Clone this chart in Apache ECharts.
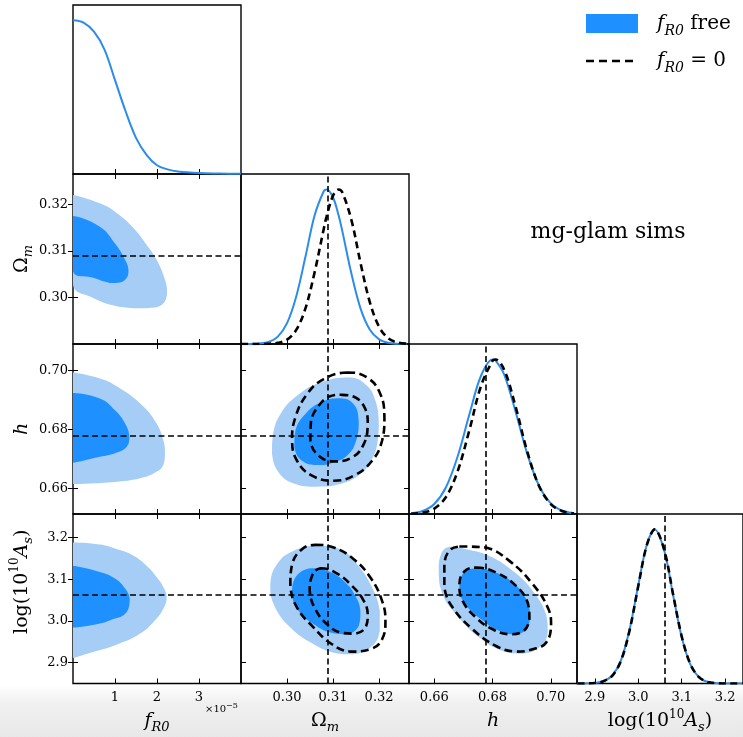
<!DOCTYPE html>
<html>
<head>
<meta charset="utf-8">
<script src="https://cdn.jsdelivr.net/npm/echarts@6/dist/echarts.min.js"></script>
<style>
  html, body { margin: 0; padding: 0; background: #fff; }
  #chart { width: 743px; height: 737px; }
</style>
</head>
<body>
<div id="chart"></div>
<script>
const FONT = 'DejaVu Serif';
const BLUE_DARK = '#1e90ff';
const BLUE_LIGHT = '#a6cdf5';
const BLUE_LINE = '#2b8ceb';

// tick values per parameter
const fr0Ticks = [1, 2, 3];
const omTicks = [0.30, 0.31, 0.32];
const hTicks = [0.66, 0.68, 0.70];
const asTicks = [2.9, 3.0, 3.1, 3.2];

// fiducial values (f_R0 = 0 sims)
const omFid = 0.3089;
const hFid = 0.6777;
const asFid = 3.062;

// 1D marginals
const fr0X = [0, 0.25, 0.5, 0.75, 1.0, 1.25, 1.5, 1.75, 2.0, 2.25, 2.5, 3.0, 3.5, 4.0];
const fr0Pdf = [1.0, 0.985, 0.926, 0.81, 0.611, 0.41, 0.235, 0.125, 0.057, 0.03, 0.016, 0.006, 0.003, 0.001];

const omX = [0.290, 0.292, 0.294, 0.296, 0.298, 0.300, 0.302, 0.304, 0.306, 0.308, 0.3086, 0.310, 0.3112, 0.312, 0.314, 0.316, 0.318, 0.320, 0.322, 0.324, 0.326];
const omFree = [0.0001, 0.0006, 0.0031, 0.0137, 0.048, 0.135, 0.308, 0.564, 0.833, 0.990, 1.0, 0.948, 0.833, 0.732, 0.454, 0.227, 0.092, 0.030, 0.0078, 0.0016, 0.0003];
const omZero = [0, 0.00002, 0.0002, 0.0014, 0.0072, 0.028, 0.091, 0.230, 0.465, 0.748, 0.826, 0.960, 1.0, 0.982, 0.801, 0.520, 0.270, 0.111, 0.037, 0.0096, 0.002];

const hX = [0.652, 0.656, 0.660, 0.664, 0.668, 0.672, 0.676, 0.680, 0.681, 0.684, 0.688, 0.692, 0.696, 0.700, 0.704, 0.708];
const hFree = [0.0048, 0.0197, 0.065, 0.173, 0.372, 0.642, 0.893, 1.000, 0.994, 0.902, 0.656, 0.384, 0.181, 0.069, 0.021, 0.0052];
const hZero = [0.0016, 0.0086, 0.035, 0.110, 0.276, 0.540, 0.827, 0.992, 1.0, 0.934, 0.688, 0.398, 0.180, 0.064, 0.018, 0.0039];

const asX = [2.86, 2.88, 2.90, 2.92, 2.94, 2.96, 2.98, 3.00, 3.02, 3.038, 3.06, 3.08, 3.10, 3.12, 3.14, 3.16, 3.18, 3.20, 3.22, 3.24];
const asFree = [0.0000, 0.0004, 0.004, 0.016, 0.052, 0.149, 0.350, 0.637, 0.904, 1.0, 0.860, 0.576, 0.301, 0.122, 0.039, 0.0096, 0.0018, 0.0003, 0, 0];
const asZero = [0.0000, 0.0003, 0.0035, 0.015, 0.050, 0.146, 0.345, 0.632, 0.901, 1.0, 0.864, 0.581, 0.305, 0.125, 0.041, 0.0102, 0.002, 0.0003, 0, 0];

// 2D contours (68% / 95%), f_R0 free
const fr0Om95 = [[0, 0.3220], [0.64, 0.3202], [1.0, 0.3184], [1.44, 0.3149], [1.75, 0.3113], [1.99, 0.3081], [2.19, 0.3038], [2.24, 0.3009], [2.11, 0.2984], [1.75, 0.2977], [1.44, 0.2977], [1.0, 0.2982], [0.48, 0.2999], [0, 0.3027]];
const fr0Om68 = [[0, 0.3175], [0.64, 0.3152], [1.0, 0.3116], [1.24, 0.3081], [1.32, 0.3059], [1.28, 0.3042], [1.12, 0.3032], [0.88, 0.3031], [0.48, 0.3042], [0, 0.3056]];
const fr0H95 = [[0, 0.6993], [0.64, 0.6973], [1.0, 0.6950], [1.6, 0.6888], [1.99, 0.6820], [2.17, 0.6753], [2.19, 0.6719], [2.15, 0.6679], [1.99, 0.6656], [1.6, 0.6634], [1.0, 0.6622], [0, 0.6615]];
const fr0H68 = [[0, 0.6924], [0.64, 0.6905], [1.0, 0.6865], [1.24, 0.6820], [1.34, 0.6775], [1.28, 0.6741], [1.0, 0.6719], [0.64, 0.6707], [0, 0.6687]];
const fr0As95 = [[0, 3.1884], [0.64, 3.1836], [1.0, 3.1739], [1.42, 3.1578], [1.74, 3.1337], [1.99, 3.1056], [2.15, 3.0815], [2.23, 3.0574], [2.19, 3.0373], [1.99, 3.0052], [1.6, 2.9691], [1.0, 2.9410], [0.48, 2.9249], [0, 2.9104]];
const fr0As68 = [[0, 3.1321], [0.64, 3.1176], [1.0, 3.1016], [1.24, 3.0775], [1.35, 3.0534], [1.32, 3.0293], [1.2, 3.0133], [1.0, 3.0052], [0.64, 2.9932], [0, 2.9836]];

const omH95 = [[0.31377, 0.69763], [0.31739, 0.69480], [0.31920, 0.68972], [0.31993, 0.68294], [0.31971, 0.67616], [0.31848, 0.66994], [0.31594, 0.66485], [0.31159, 0.66146], [0.30652, 0.66057], [0.30145, 0.66169], [0.29819, 0.66542], [0.29674, 0.67164], [0.29696, 0.67842], [0.29855, 0.68519], [0.30217, 0.69142], [0.30725, 0.69593]];
const omH68 = [[0.31159, 0.69062], [0.31449, 0.68859], [0.31558, 0.68294], [0.31522, 0.67729], [0.31340, 0.67164], [0.31014, 0.66881], [0.30652, 0.66790], [0.30326, 0.66938], [0.30160, 0.67390], [0.30181, 0.67955], [0.30362, 0.68463], [0.30725, 0.68915]];
const omAs95 = [[0.30652, 3.1803], [0.31159, 3.1723], [0.31522, 3.1361], [0.31848, 3.0799], [0.32015, 3.0237], [0.32015, 2.9754], [0.31848, 2.9393], [0.31449, 2.9193], [0.31014, 2.9233], [0.30580, 2.9434], [0.30072, 2.9836], [0.29710, 3.0398], [0.29637, 3.0880], [0.29783, 3.1361], [0.30145, 3.1683]];
const omAs68 = [[0.30507, 3.1265], [0.30870, 3.1201], [0.31232, 3.0960], [0.31485, 3.0598], [0.31594, 3.0237], [0.31558, 2.9875], [0.31304, 2.9675], [0.30942, 2.9715], [0.30580, 2.9916], [0.30254, 3.0237], [0.30109, 3.0639], [0.30181, 3.1040]];
const hAs95 = [[0.66515, 3.1779], [0.67089, 3.1723], [0.67890, 3.1562], [0.68691, 3.1201], [0.69379, 3.0719], [0.69838, 3.0157], [0.69895, 2.9715], [0.69667, 2.9393], [0.69035, 2.9209], [0.68348, 2.9273], [0.67546, 2.9595], [0.66744, 3.0157], [0.66286, 3.0639], [0.66149, 3.1201], [0.66229, 3.1602]];
const hAs68 = [[0.67432, 3.1265], [0.68004, 3.1185], [0.68634, 3.0960], [0.69093, 3.0598], [0.69288, 3.0197], [0.69207, 2.9836], [0.68806, 2.9675], [0.68234, 2.9754], [0.67604, 3.0036], [0.67065, 3.0398], [0.66859, 3.0759], [0.66973, 3.1120]];

// 2D contours, f_R0 = 0
const omH95Zero = [[0.31304, 0.69932], [0.31739, 0.69763], [0.32029, 0.69197], [0.32116, 0.68407], [0.32065, 0.67616], [0.31848, 0.66938], [0.31449, 0.66430], [0.31014, 0.66260], [0.30543, 0.66430], [0.30217, 0.66938], [0.30109, 0.67616], [0.30181, 0.68407], [0.30435, 0.69197], [0.30797, 0.69705]];
const omH68Zero = [[0.31159, 0.69175], [0.31485, 0.69085], [0.31703, 0.68689], [0.31754, 0.68181], [0.31667, 0.67503], [0.31413, 0.67051], [0.31014, 0.66915], [0.30688, 0.67107], [0.30507, 0.67616], [0.30522, 0.68294], [0.30688, 0.68802], [0.30906, 0.69108]];
const omAs95Zero = [[0.30616, 3.1827], [0.31014, 3.1763], [0.31449, 3.1482], [0.31812, 3.1040], [0.32065, 3.0478], [0.32138, 2.9996], [0.32065, 2.9554], [0.31812, 2.9313], [0.31377, 2.9257], [0.30978, 2.9434], [0.30580, 2.9836], [0.30217, 3.0318], [0.30072, 3.0839], [0.30109, 3.1361], [0.30326, 3.1723]];
const omAs68Zero = [[0.30725, 3.1265], [0.31051, 3.1161], [0.31413, 3.0839], [0.31667, 3.0478], [0.31754, 3.0157], [0.31703, 2.9836], [0.31485, 2.9691], [0.31159, 2.9715], [0.30870, 2.9916], [0.30616, 3.0277], [0.30493, 3.0719], [0.30543, 3.1080]];
const hAs95Zero = [[0.66859, 3.1787], [0.67776, 3.1763], [0.68577, 3.1442], [0.69379, 3.0880], [0.69895, 3.0318], [0.70010, 2.9916], [0.69838, 2.9474], [0.69379, 2.9313], [0.68806, 2.9257], [0.68120, 2.9393], [0.67318, 2.9795], [0.66630, 3.0318], [0.66344, 3.0799], [0.66344, 3.1361], [0.66515, 3.1683]];
const hAs68Zero = [[0.67432, 3.1281], [0.68120, 3.1161], [0.68806, 3.0839], [0.69207, 3.0438], [0.69265, 3.0036], [0.69035, 2.9739], [0.68577, 2.9675], [0.68004, 2.9795], [0.67432, 3.0076], [0.66973, 3.0478], [0.66859, 3.0880], [0.67031, 3.1185]];

const RICH = {
  it: { fontFamily: FONT, fontStyle: 'italic', fontSize: 19, color: '#000', lineHeight: 26 },
  rm: { fontFamily: FONT, fontSize: 19, color: '#000', lineHeight: 26 },
  sub: { fontFamily: FONT, fontStyle: 'italic', fontSize: 13, color: '#000', lineHeight: 13, verticalAlign: 'bottom' },
  sup: { fontFamily: FONT, fontSize: 12, color: '#000', lineHeight: 12, verticalAlign: 'top' }
};

const params = [
  { name: '{it|f}{sub|R0}', x: [0, 4], y: null, ticks: fr0Ticks, dec: 0, pad: 0 },
  { name: '{rm|Ω}{sub|m}', x: [0.29, 0.3265], y: [0.29, 0.3265], ticks: omTicks, dec: 2, pad: 0 },
  { name: '{it|h}', x: [0.6513, 0.709], y: [0.6513, 0.709], ticks: hTicks, dec: 2, pad: 0 },
  { name: '{rm|log(10}{sup|10}{it|A}{sub|s}{rm|)}', x: [2.859, 3.241], y: [2.849, 3.257], ticks: asTicks, dec: 1, pad: 34 }
];

const colLeft = [73, 241, 409, 577];
const colWidth = 168;
const rowTop = [5, 174, 344, 514];
const rowHeight = [169, 170, 170, 169.5];

function valueAxis(g, pos, range, ticks, dec, labels, name, pad) {
  const vertical = pos === 'left' || pos === 'right';
  return {
    gridIndex: g, type: 'value', position: pos, min: range[0], max: range[1],
    axisLine: { show: false }, splitLine: { show: false },
    axisTick: { show: true, inside: true, length: 5, customValues: ticks, lineStyle: { color: '#000', width: 1 } },
    axisLabel: { show: labels, customValues: ticks, formatter: v => v.toFixed(dec), fontFamily: FONT, fontSize: 13, color: '#000', margin: vertical ? 5 : 8 },
    name: name, nameLocation: 'middle', nameGap: vertical ? 38 : 25, nameRotate: vertical ? 90 : 0,
    nameTextStyle: { rich: RICH, padding: pad ? [0, 0, 0, pad] : 0 }
  };
}

const grids = [], xAxes = [], yAxes = [], series = [];
const cell = {};
for (let i = 0; i < 4; i++) {
  for (let j = 0; j <= i; j++) {
    const g = grids.length;
    grids.push({ left: colLeft[j], top: rowTop[i], width: colWidth, height: rowHeight[i], show: true, borderColor: '#000', borderWidth: 1.4 });
    const px = params[j], py = params[i];
    const xi = xAxes.length;
    xAxes.push(valueAxis(g, 'bottom', px.x, px.ticks, px.dec, i === 3, i === 3 ? px.name : '', 0));
    if (j < i) xAxes.push(valueAxis(g, 'top', px.x, px.ticks, px.dec, false, '', 0));
    const yi = yAxes.length;
    if (j < i) {
      yAxes.push(valueAxis(g, 'left', py.y, py.ticks, py.dec, j === 0, j === 0 ? py.name : '', py.pad));
      yAxes.push(valueAxis(g, 'right', py.y, py.ticks, py.dec, false, '', 0));
    } else {
      yAxes.push({ gridIndex: g, type: 'value', min: 0, max: 1.1, show: false });
    }
    cell[i + '' + j] = { xi, yi };
  }
}

function curve(c, xs, ys, style) {
  series.push({
    type: 'line', xAxisIndex: c.xi, yAxisIndex: c.yi, smooth: 0.35, showSymbol: false, silent: true, z: 4,
    data: xs.map((x, k) => [x, ys[k]]), lineStyle: style
  });
}

function region(c, pts, style, z) {
  series.push({
    type: 'custom', xAxisIndex: c.xi, yAxisIndex: c.yi, clip: true, silent: true, z: z,
    data: pts,
    renderItem: (p, api) => {
      if (p.dataIndex !== 0) return;
      return {
        type: 'polygon',
        shape: { points: pts.map(q => api.coord(q)), smooth: 0.45, smoothConstraint: [[1e9, 1e9], [-1e9, -1e9]] },
        style: style
      };
    }
  });
}

function fid(c, axis, value) {
  series.push({
    type: 'line', xAxisIndex: c.xi, yAxisIndex: c.yi, data: [], z: 6,
    markLine: {
      silent: true, symbol: 'none', precision: 6, label: { show: false },
      lineStyle: { color: '#000', width: 1.6, type: [6, 3.5] },
      data: [{ [axis]: value }]
    }
  });
}

const freeLine = { color: BLUE_LINE, width: 2 };
const zeroLine = { color: '#000', width: 2.6, type: [7, 4.5] };
const fill95 = { fill: BLUE_LIGHT };
const fill68 = { fill: BLUE_DARK };
const dash = { fill: 'none', stroke: '#000', lineWidth: 2.6, lineDash: [8, 4.5] };

// diagonal
curve(cell['00'], fr0X, fr0Pdf, freeLine);
curve(cell['11'], omX, omFree, freeLine);
curve(cell['11'], omX, omZero, zeroLine);
curve(cell['22'], hX, hFree, freeLine);
curve(cell['22'], hX, hZero, zeroLine);
curve(cell['33'], asX, asFree, freeLine);
curve(cell['33'], asX, asZero, zeroLine);

// 2D
region(cell['10'], fr0Om95, fill95, 2); region(cell['10'], fr0Om68, fill68, 3);
region(cell['20'], fr0H95, fill95, 2); region(cell['20'], fr0H68, fill68, 3);
region(cell['30'], fr0As95, fill95, 2); region(cell['30'], fr0As68, fill68, 3);
region(cell['21'], omH95, fill95, 2); region(cell['21'], omH68, fill68, 3);
region(cell['21'], omH95Zero, dash, 5); region(cell['21'], omH68Zero, dash, 5);
region(cell['31'], omAs95, fill95, 2); region(cell['31'], omAs68, fill68, 3);
region(cell['31'], omAs95Zero, dash, 5); region(cell['31'], omAs68Zero, dash, 5);
region(cell['32'], hAs95, fill95, 2); region(cell['32'], hAs68, fill68, 3);
region(cell['32'], hAs95Zero, dash, 5); region(cell['32'], hAs68Zero, dash, 5);

// fiducial lines
fid(cell['10'], 'yAxis', omFid);
fid(cell['20'], 'yAxis', hFid);
fid(cell['30'], 'yAxis', asFid);
fid(cell['11'], 'xAxis', omFid);
fid(cell['21'], 'xAxis', omFid); fid(cell['21'], 'yAxis', hFid);
fid(cell['31'], 'xAxis', omFid); fid(cell['31'], 'yAxis', asFid);
fid(cell['22'], 'xAxis', hFid);
fid(cell['32'], 'xAxis', hFid); fid(cell['32'], 'yAxis', asFid);
fid(cell['33'], 'xAxis', asFid);

const LEG_RICH = {
  it: { fontFamily: FONT, fontStyle: 'italic', fontSize: 20, fill: '#000', lineHeight: 28 },
  rm: { fontFamily: FONT, fontSize: 20, fill: '#000', lineHeight: 28 },
  sub: { fontFamily: FONT, fontStyle: 'italic', fontSize: 14, fill: '#000', lineHeight: 14, verticalAlign: 'bottom' }
};
const SMALL_RICH = {
  rm: { fontFamily: FONT, fontSize: 10, fill: '#000', lineHeight: 14 },
  sup: { fontFamily: FONT, fontSize: 8, fill: '#000', lineHeight: 8, verticalAlign: 'top' }
};

const chart = echarts.init(document.getElementById('chart'));
chart.setOption({
  animation: false,
  backgroundColor: '#fff',
  grid: grids,
  xAxis: xAxes,
  yAxis: yAxes,
  series: series,
  graphic: [
    { type: 'rect', z: -10, shape: { x: 0, y: 686, width: 743, height: 51 },
      style: { fill: new echarts.graphic.LinearGradient(0, 0, 0, 1, [{ offset: 0, color: 'rgba(236,236,236,0)' }, { offset: 0.35, color: '#f0f0f0' }, { offset: 1, color: '#e8e8e8' }]) } },
    { type: 'rect', shape: { x: 586, y: 14, width: 52, height: 19 }, style: { fill: BLUE_DARK } },
    { type: 'line', shape: { x1: 586, y1: 61, x2: 636, y2: 61 }, style: { stroke: '#000', lineWidth: 2.6, lineDash: [8, 5] } },
    { type: 'text', x: 657, y: 24, style: { text: '{it|f}{sub|R0}{rm| free}', rich: LEG_RICH, verticalAlign: 'middle' } },
    { type: 'text', x: 657, y: 61, style: { text: '{it|f}{sub|R0}{rm| = 0}', rich: LEG_RICH, verticalAlign: 'middle' } },
    { type: 'text', x: 608, y: 232, style: { text: 'mg-glam sims', fontFamily: FONT, fontSize: 22, fill: '#000', align: 'center', verticalAlign: 'middle' } },
    { type: 'text', x: 205, y: 709, style: { text: '{rm|×10}{sup|−5}', rich: SMALL_RICH, verticalAlign: 'middle' } }
  ]
});
</script>
</body>
</html>
